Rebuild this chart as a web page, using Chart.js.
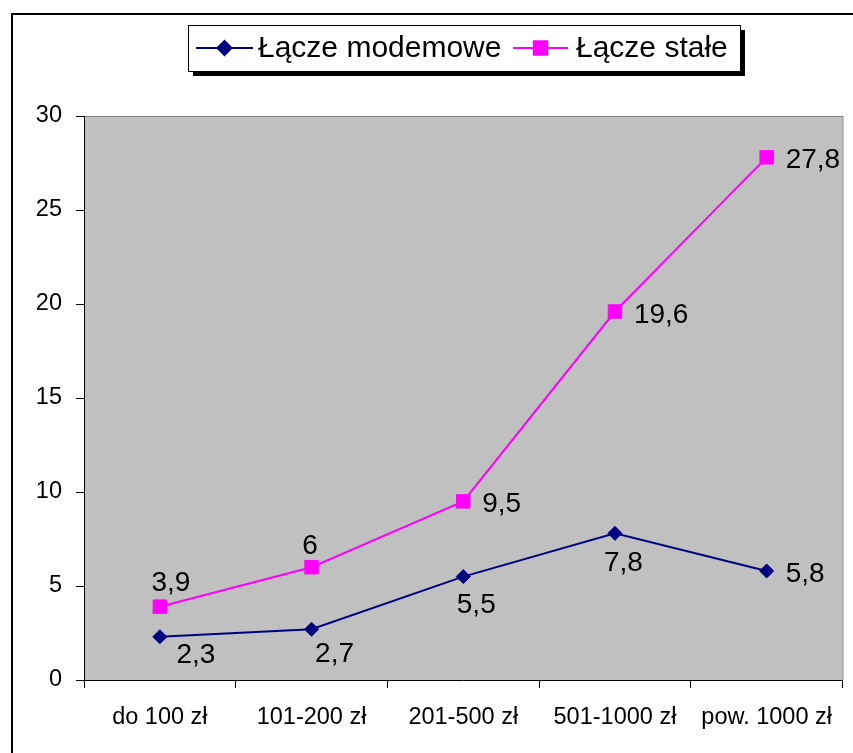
<!DOCTYPE html>
<html>
<head>
<meta charset="utf-8">
<script src="https://cdn.jsdelivr.net/npm/chart.js@4.4.1/dist/chart.umd.min.js"></script>
<style>
  html, body { margin: 0; padding: 0; background: #fff; }
  #chart { display: block; }
</style>
</head>
<body>
<canvas id="chart" width="853" height="753"></canvas>
<script>
// data
const categories = ["do 100 zł", "101-200 zł", "201-500 zł", "501-1000 zł", "pow. 1000 zł"]
const modemValues = [2.3, 2.7, 5.5, 7.8, 5.8]
const fixedValues = [3.9, 6, 9.5, 19.6, 27.8]
const seriesNames = ["Łącze modemowe", "Łącze stałe"]
const yMin = 0
const yMax = 30
const yStep = 5

const FONT = '"Liberation Sans", Arial, sans-serif'
const NAVY = "#000080"
const PINK = "#FF00FF"

// where each value label sits next to its point ("right" or [dx, dy] of text centre)
const labelPlacement = [
    [[36, 16], [23, 23], [13, 26], [8.5, 28], "right"],
    [[11, -26], [-1.5, -23], "right", "right", "right"]
]

function formatValue(v) {
    return String(v).replace(".", ",")
}

const backgroundPlugin = {
    id: "background",
    beforeDraw(chart) {
        let ctx = chart.ctx
        let area = chart.chartArea
        ctx.save()
        ctx.fillStyle = "#fff"
        ctx.fillRect(0, 0, chart.width, chart.height)
        // outer frame of the figure
        ctx.strokeStyle = "#000"
        ctx.lineWidth = 2
        ctx.strokeRect(12, 14, chart.width + 20, chart.height + 20)
        // plot area
        ctx.fillStyle = "#C0C0C0"
        ctx.fillRect(area.left, area.top, area.right - area.left, area.bottom - area.top)
        ctx.strokeStyle = "#808080"
        ctx.lineWidth = 1
        ctx.beginPath()
        ctx.moveTo(area.left, area.top + 0.5)
        ctx.lineTo(area.right + 0.5, area.top + 0.5)
        ctx.lineTo(area.right + 0.5, area.bottom)
        ctx.stroke()
        ctx.restore()
    }
}

const valueLabelsPlugin = {
    id: "valueLabels",
    afterDatasetsDraw(chart) {
        let ctx = chart.ctx
        ctx.save()
        ctx.font = "28px " + FONT
        ctx.fillStyle = "#000"
        ctx.textBaseline = "alphabetic"
        chart.data.datasets.forEach((ds, di) => {
            let meta = chart.getDatasetMeta(di)
            meta.data.forEach((pt, i) => {
                let text = formatValue(ds.data[i])
                let place = labelPlacement[di][i]
                if (place === "right") {
                    ctx.textAlign = "left"
                    ctx.fillText(text, pt.x + 19, pt.y + 1 + 10)
                } else {
                    ctx.textAlign = "center"
                    ctx.fillText(text, pt.x + place[0], pt.y + place[1] + 10)
                }
            })
        })
        ctx.restore()
    }
}

const boxLegendPlugin = {
    id: "boxLegend",
    afterDraw(chart) {
        let ctx = chart.ctx
        let x = 188, y = 25, w = 552, h = 46
        ctx.save()
        ctx.fillStyle = "#000"
        ctx.fillRect(x + 5, y + 5, w, h)
        ctx.fillStyle = "#fff"
        ctx.fillRect(x, y, w, h)
        ctx.strokeStyle = "#000"
        ctx.lineWidth = 1
        ctx.strokeRect(x + 0.5, y + 0.5, w, h)

        let cy = y + h / 2
        let items = [
            { x0: 196, x1: 253, color: NAVY, style: "rectRot", radius: 7, textX: 258 },
            { x0: 513, x1: 568, color: PINK, style: "rect", radius: 9.5, textX: 576 }
        ]
        ctx.font = "30px " + FONT
        ctx.textAlign = "left"
        ctx.textBaseline = "middle"
        items.forEach((it, i) => {
            ctx.strokeStyle = it.color
            ctx.lineWidth = 2
            ctx.beginPath()
            ctx.moveTo(it.x0, cy)
            ctx.lineTo(it.x1, cy)
            ctx.stroke()
            ctx.fillStyle = it.color
            Chart.helpers.drawPoint(ctx, { pointStyle: it.style, radius: it.radius, borderWidth: 1 }, (it.x0 + it.x1) / 2, cy)
            ctx.fillStyle = "#000"
            ctx.fillText(seriesNames[i], it.textX, cy + 1)
        })
        ctx.restore()
    }
}

function makeDataset(label, values, color, style, radius) {
    return {
        label: label,
        data: values,
        borderColor: color,
        backgroundColor: color,
        borderWidth: 2,
        pointStyle: style,
        pointRadius: radius,
        pointBorderWidth: 1,
        pointBackgroundColor: color,
        pointBorderColor: color,
        tension: 0,
        fill: false
    }
}

new Chart(document.getElementById("chart").getContext("2d"), {
    type: "line",
    data: {
        labels: categories,
        datasets: [
            makeDataset(seriesNames[0], modemValues, NAVY, "rectRot", 7),
            makeDataset(seriesNames[1], fixedValues, PINK, "rect", 9.5)
        ]
    },
    options: {
        responsive: false,
        animation: false,
        layout: { padding: { top: 116, right: 9, left: 0, bottom: 0 } },
        plugins: {
            legend: { display: false },
            tooltip: { enabled: false }
        },
        scales: {
            x: {
                offset: true,
                grid: { offset: true, drawOnChartArea: false, tickLength: 8, color: "#000" },
                border: { color: "#000", width: 1 },
                ticks: {
                    color: "#000",
                    font: { family: FONT, size: 23.5 },
                    padding: 15,
                    maxRotation: 0,
                    autoSkip: false
                },
                afterFit(scale) { scale.height = 73 }
            },
            y: {
                min: yMin,
                max: yMax,
                grid: { drawOnChartArea: false, tickLength: 8, color: "#000" },
                border: { color: "#000", width: 1 },
                ticks: {
                    stepSize: yStep,
                    color: "#000",
                    font: { family: FONT, size: 23.5 },
                    padding: 14
                },
                afterFit(scale) { scale.width = 84 }
            }
        }
    },
    plugins: [backgroundPlugin, valueLabelsPlugin, boxLegendPlugin]
})
</script>
</body>
</html>
